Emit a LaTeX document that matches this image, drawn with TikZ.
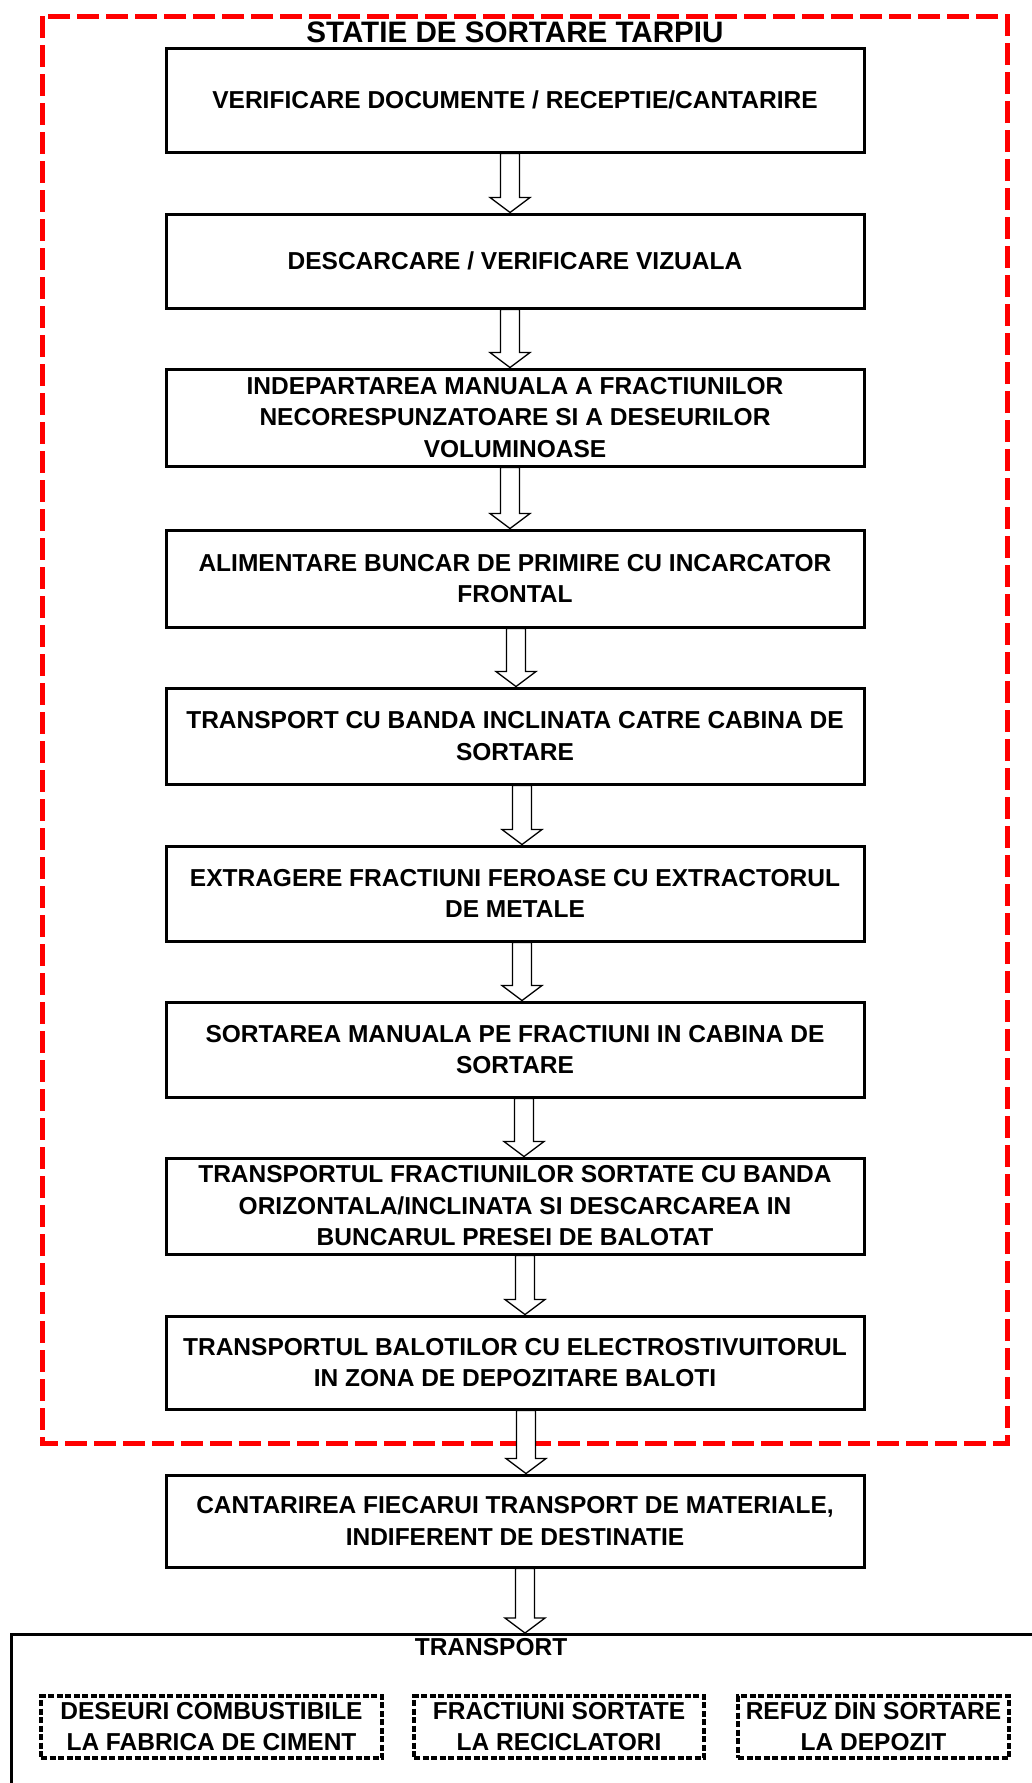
\documentclass[tikz,border=0pt]{standalone}
\usepackage{fontspec}
\setmainfont{Liberation Sans}
\usetikzlibrary{calc}
\definecolor{redline}{RGB}{255,0,0}
\tikzset{
  stepbox/.style={draw=black, line width=3pt, minimum width=698pt, inner sep=0pt, align=center,
    font=\fontsize{24.5}{31.5}\selectfont\bfseries},
  destbox/.style={draw=black, line width=3.2pt, dash pattern=on 6pt off 2.5pt, inner sep=0pt, align=center,
    font=\fontsize{24.5}{31}\selectfont\bfseries},
  arrowline/.style={draw=black, line width=1.3pt, fill=white, line join=miter},
}
\newcommand\blockarrow[3]{%
  \draw[arrowline] let \p1=(#1.south), \p2=(#2.north) in
    (#3pt-9.5pt,\y1) -- (#3pt+9.5pt,\y1) -- (#3pt+9.5pt,\y2+15pt) -- (#3pt+20pt,\y2+15pt)
    -- (#3pt,\y2) -- (#3pt-20pt,\y2+15pt) -- (#3pt-9.5pt,\y2+15pt) -- cycle;}
\begin{document}
\begin{tikzpicture}[x=1pt,y=-1pt]
\useasboundingbox (0,0) rectangle (1032,1783);
% red dashed frame
\draw[redline, line width=5pt, dash pattern=on 22pt off 7pt] (42,16) rectangle (1007,1443);
\node[font=\fontsize{29.6}{32}\selectfont\bfseries] (title) at (515,32.5) {STATIE DE SORTARE TARPIU};
% steps
\node[stepbox, minimum height=104pt] (b1) at (515,100) {VERIFICARE DOCUMENTE / RECEPTIE/CANTARIRE};
\node[stepbox, minimum height=94pt] (b2) at (515,261) {DESCARCARE / VERIFICARE VIZUALA};
\node[stepbox, minimum height=97pt] (b3) at (515,417.5) {INDEPARTAREA MANUALA A FRACTIUNILOR\\NECORESPUNZATOARE SI A DESEURILOR\\VOLUMINOASE};
\node[stepbox, minimum height=97pt] (b4) at (515,578.5) {ALIMENTARE BUNCAR DE PRIMIRE CU INCARCATOR\\FRONTAL};
\node[stepbox, minimum height=96pt] (b5) at (515,736) {TRANSPORT CU BANDA INCLINATA CATRE CABINA DE\\SORTARE};
\node[stepbox, minimum height=95pt] (b6) at (515,893.5) {EXTRAGERE FRACTIUNI FEROASE CU EXTRACTORUL\\DE METALE};
\node[stepbox, minimum height=95pt] (b7) at (515,1049.5) {SORTAREA MANUALA PE FRACTIUNI IN CABINA DE\\SORTARE};
\node[stepbox, minimum height=96pt] (b8) at (515,1206) {TRANSPORTUL FRACTIUNILOR SORTATE CU BANDA\\ORIZONTALA/INCLINATA SI DESCARCAREA IN\\BUNCARUL PRESEI DE BALOTAT};
\node[stepbox, minimum height=93pt] (b9) at (515,1362.5) {TRANSPORTUL BALOTILOR CU ELECTROSTIVUITORUL\\IN ZONA DE DEPOZITARE BALOTI};
\node[stepbox, minimum height=92pt] (b10) at (515,1521) {CANTARIREA FIECARUI TRANSPORT DE MATERIALE,\\INDIFERENT DE DESTINATIE};
% transport box (runs off the page)
\node[draw=black, line width=3pt, minimum width=1040pt, minimum height=170pt, inner sep=0pt,
  anchor=north west] (tr) at (10,1633) {};
\node[font=\fontsize{24.5}{30}\selectfont\bfseries] (trlabel) at (491,1647) {TRANSPORT};
\node[destbox, minimum width=341pt, minimum height=62pt] (d1) at (211.5,1727) {DESEURI COMBUSTIBILE\\LA FABRICA DE CIMENT};
\node[destbox, minimum width=290pt, minimum height=62pt] (d2) at (559,1727) {FRACTIUNI SORTATE\\LA RECICLATORI};
\node[destbox, minimum width=271pt, minimum height=62pt] (d3) at (873.5,1727) {REFUZ DIN SORTARE\\LA DEPOZIT};
% arrows
\blockarrow{b1}{b2}{510}
\blockarrow{b2}{b3}{510}
\blockarrow{b3}{b4}{510}
\blockarrow{b4}{b5}{516}
\blockarrow{b5}{b6}{522}
\blockarrow{b6}{b7}{522}
\blockarrow{b7}{b8}{524}
\blockarrow{b8}{b9}{525}
\blockarrow{b9}{b10}{526}
\blockarrow{b10}{tr}{525}
\end{tikzpicture}
\end{document}
